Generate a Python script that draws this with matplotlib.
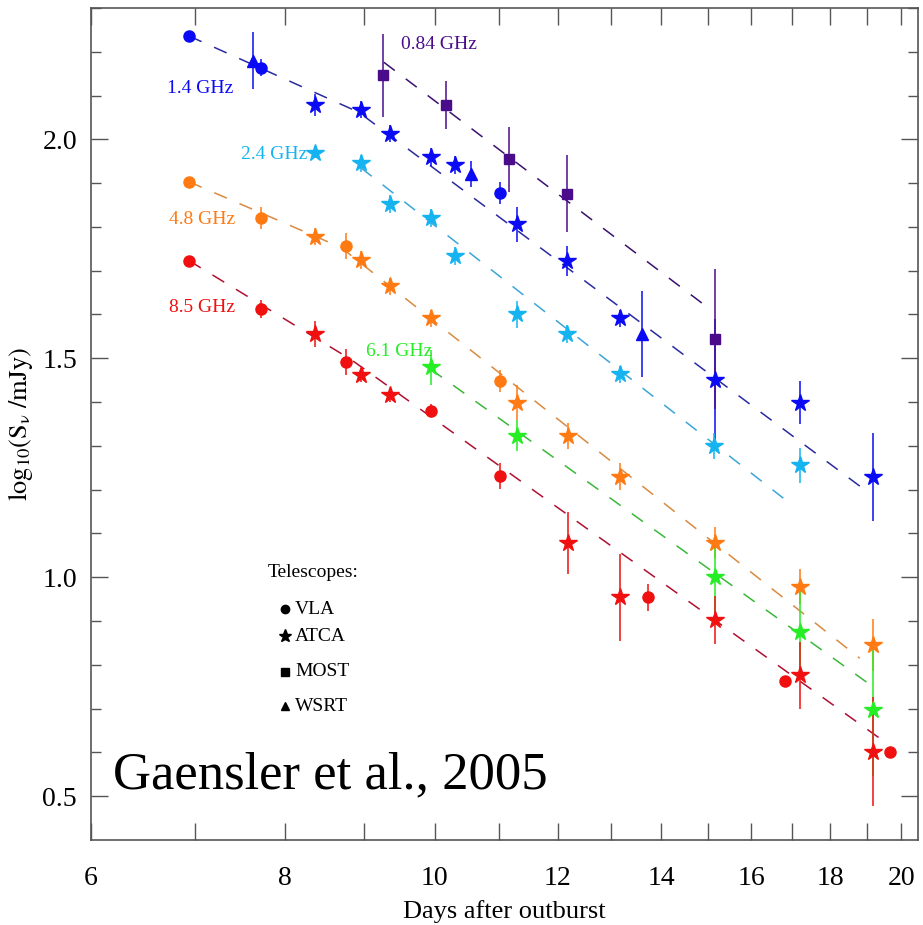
import numpy as np
import matplotlib
matplotlib.use('Agg')
import matplotlib.pyplot as plt
from matplotlib.ticker import FixedLocator, FixedFormatter, NullFormatter

plt.rcParams['font.family'] = ['Liberation Serif', 'DejaVu Serif']
plt.rcParams['mathtext.fontset'] = 'stix'

# ---- data (days, log10 flux, error, telescope) ----
d14 = [6.94, 7.63, 7.72, 8.37, 8.96, 9.35, 9.94, 10.31, 10.55, 11.01, 11.30, 12.17, 13.17, 13.60, 15.16, 17.20, 19.17]
s14 = [2.236, 2.180, 2.164, 2.078, 2.068, 2.013, 1.960, 1.941, 1.920, 1.877, 1.806, 1.722, 1.591, 1.555, 1.450, 1.399, 1.229]
e14 = [0.0, 0.064, 0.02, 0.025, 0.02, 0.02, 0.02, 0.02, 0.03, 0.025, 0.04, 0.035, 0.02, 0.098, 0.14, 0.05, 0.10]
t14 = ['VLA', 'WSRT', 'VLA', 'ATCA', 'ATCA', 'ATCA', 'ATCA', 'ATCA', 'WSRT', 'VLA', 'ATCA', 'ATCA', 'ATCA', 'WSRT', 'ATCA', 'ATCA', 'ATCA']

d084 = [9.26, 10.17, 11.17, 12.17, 15.16]
s084 = [2.146, 2.079, 1.954, 1.876, 1.545]
e084 = [0.095, 0.055, 0.075, 0.088, 0.16]
t084 = ['MOST'] * 5

d24 = [8.37, 8.96, 9.35, 9.94, 10.31, 11.30, 12.17, 13.17, 15.15, 17.20]
s24 = [1.968, 1.945, 1.852, 1.820, 1.733, 1.600, 1.556, 1.463, 1.300, 1.256]
e24 = [0.01, 0.02, 0.02, 0.02, 0.02, 0.03, 0.02, 0.02, 0.03, 0.04]
t24 = ['ATCA'] * 10

d48 = [6.94, 7.72, 8.37, 8.76, 8.96, 9.35, 9.94, 11.01, 11.30, 12.18, 13.16, 15.16, 17.20, 19.17]
s48 = [1.903, 1.820, 1.778, 1.756, 1.724, 1.664, 1.591, 1.448, 1.399, 1.323, 1.230, 1.079, 0.978, 0.845]
e48 = [0.005, 0.025, 0.02, 0.03, 0.02, 0.02, 0.02, 0.025, 0.04, 0.03, 0.03, 0.035, 0.04, 0.06]
t48 = ['VLA', 'VLA', 'ATCA', 'VLA', 'ATCA', 'ATCA', 'ATCA', 'VLA', 'ATCA', 'ATCA', 'ATCA', 'ATCA', 'ATCA', 'ATCA']

d61 = [9.94, 11.29, 15.16, 17.20, 19.17]
s61 = [1.479, 1.323, 1.000, 0.874, 0.697]
e61 = [0.04, 0.035, 0.08, 0.10, 0.15]
t61 = ['ATCA'] * 5

d85 = [6.94, 7.72, 8.37, 8.76, 8.96, 9.35, 9.94, 11.01, 12.18, 13.16, 13.72, 15.16, 16.82, 17.20, 19.17, 19.67]
s85 = [1.723, 1.613, 1.556, 1.492, 1.461, 1.416, 1.380, 1.231, 1.078, 0.954, 0.954, 0.903, 0.763, 0.776, 0.602, 0.602]
e85 = [0.005, 0.02, 0.03, 0.03, 0.015, 0.015, 0.015, 0.03, 0.07, 0.10, 0.03, 0.055, 0.005, 0.077, 0.125, 0.005]
t85 = ['VLA', 'VLA', 'ATCA', 'VLA', 'ATCA', 'ATCA', 'VLA', 'VLA', 'ATCA', 'ATCA', 'VLA', 'ATCA', 'VLA', 'ATCA', 'ATCA', 'VLA']

# broken power-law fits (vertices)
f14x, f14y = [6.94, 8.93, 19.1], [2.236, 2.062, 1.19]
f084x, f084y = [9.27, 15.0], [2.176, 1.616]
f24x, f24y = [8.96, 17.0], [1.935, 1.165]
f48x, f48y = [6.94, 8.70, 18.8], [1.903, 1.753, 0.815]
f61x, f61y = [9.94, 19.0], [1.475, 0.76]
f85x, f85y = [6.94, 8.83, 19.6], [1.723, 1.497, 0.619]

MARK = {'VLA': ('o', 8), 'ATCA': ('*', 13), 'MOST': ('s', 7.5), 'WSRT': ('^', 8)}

bands = [
    # label, days, flux, err, tel, fit x, fit y, marker colour, line colour, label pos
    ('1.4 GHz', d14, s14, e14, t14, f14x, f14y, '#0a0af5', '#2a2aa0', (6.72, 2.116)),
    ('0.84 GHz', d084, s084, e084, t084, f084x, f084y, '#4b0c8c', '#3a1070', (9.51, 2.217)),
    ('2.4 GHz', d24, s24, e24, t24, f24x, f24y, '#15b4f0', '#3aa6d8', (7.50, 1.966)),
    ('4.8 GHz', d48, s48, e48, t48, f48x, f48y, '#ff7a12', '#d98a40', (6.74, 1.817)),
    ('6.1 GHz', d61, s61, e61, t61, f61x, f61y, '#25ee25', '#3ab83a', (9.03, 1.516)),
    ('8.5 GHz', d85, s85, e85, t85, f85x, f85y, '#f01010', '#b01030', (6.74, 1.616)),
]

fig = plt.figure(figsize=(9.23, 9.25), dpi=100)
ax = fig.add_axes([0.0986, 0.0919, 0.8960, 0.8995])
ax.set_xscale('log')

for lbl, d, s, e, t, fx, fy, mc, lc, pos in bands:
    ax.plot(fx, fy, color=lc, lw=1.1, dashes=(9, 9), zorder=1)
    d, s, e, t = np.array(d), np.array(s), np.array(e), np.array(t)
    ax.errorbar(d, s, yerr=e, fmt='none', ecolor=mc, elinewidth=1.1, capsize=0, zorder=2)
    for tel, (mk, ms) in MARK.items():
        sel = t == tel
        if sel.any():
            ax.plot(d[sel], s[sel], ls='none', marker=mk, ms=ms, color=mc,
                    mec=mc, zorder=3)
    ax.text(pos[0], pos[1], lbl, color=mc, fontsize=14, ha='left', va='center')

# telescope key
ax.text(0.214, 0.321, 'Telescopes:', transform=ax.transAxes, fontsize=14,
        ha='left', va='center')
key_y = [0.2776, 0.245, 0.202, 0.161]
for (tel, (mk, ms)), ky in zip(MARK.items(), key_y):
    ax.plot([0.2346], [ky], transform=ax.transAxes, marker=mk, ms=ms * 0.75,
            color='black', ls='none', clip_on=False)
    ax.text(0.247, ky, tel, transform=ax.transAxes, fontsize=14, ha='left', va='center')

ax.text(0.0266, 0.078, 'Gaensler et al., 2005', transform=ax.transAxes,
        fontsize=38, ha='left', va='center')

ax.set_xlim(6, 20.5)
ax.set_ylim(0.40, 2.30)
ax.xaxis.set_major_locator(FixedLocator([6, 8, 10, 12, 14, 16, 18, 20]))
ax.xaxis.set_minor_locator(FixedLocator([7, 9, 11, 13, 15, 17, 19]))
ax.xaxis.set_major_formatter(FixedFormatter(['6', '8', '10', '12', '14', '16', '18', '20']))
ax.xaxis.set_minor_formatter(NullFormatter())
ax.set_yticks([0.5, 1.0, 1.5, 2.0])
ax.set_yticklabels(['0.5', '1.0', '1.5', '2.0'])
ax.yaxis.set_minor_locator(FixedLocator(np.arange(0.5, 2.31, 0.1)))

ax.tick_params(which='both', direction='in', top=True, right=True, color='#555555')
ax.tick_params(which='major', length=12, width=1.0, labelsize=20)
ax.tick_params(which='minor', length=12, width=1.0)
ax.tick_params(axis='y', which='minor', length=7)
ax.tick_params(axis='x', pad=19)
ax.tick_params(axis='y', pad=10)
for sp in ax.spines.values():
    sp.set_color('#555555')
    sp.set_linewidth(1.2)

ax.set_xlabel('Days after outburst', fontsize=19, labelpad=6)
ax.set_ylabel(r'$\mathrm{log_{10}(S_{\nu}\ /mJy)}$', fontsize=19, labelpad=5)

fig.savefig('out.png', dpi=100)
